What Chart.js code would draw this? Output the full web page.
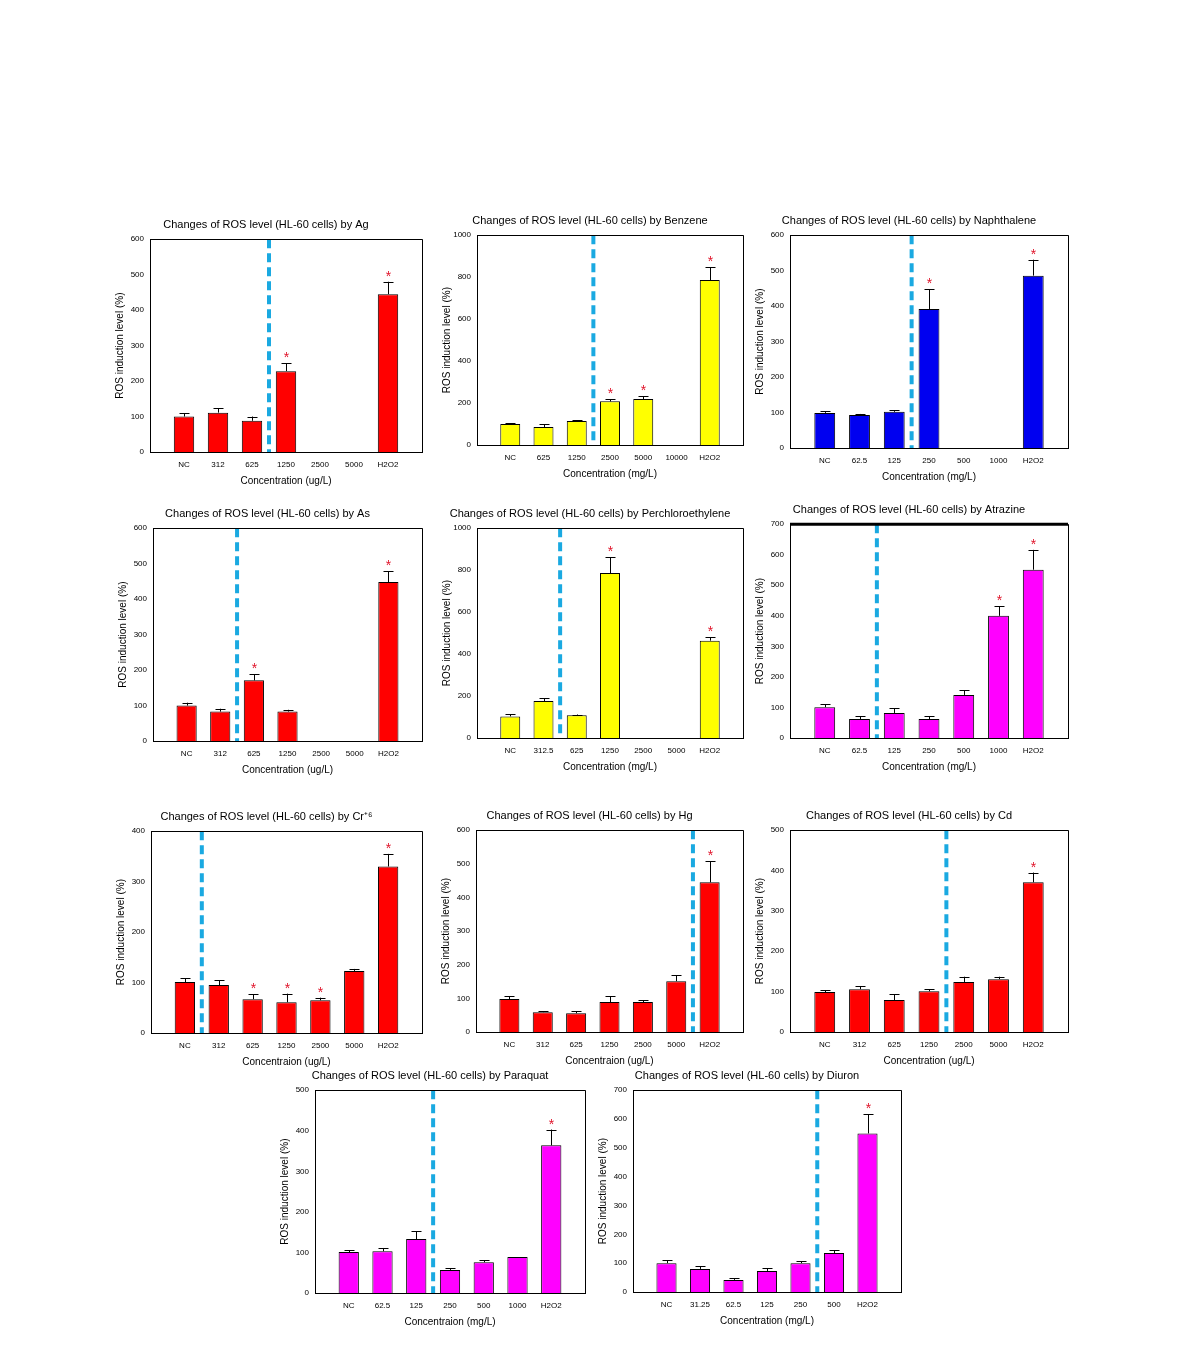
<!DOCTYPE html>
<html>
<head>
<meta charset="utf-8">
<script src="https://cdn.jsdelivr.net/npm/chart.js@4.4.1/dist/chart.umd.min.js"></script>
<style>
  html, body { margin: 0; background: #fff; }
  #page { position: relative; width: 1190px; height: 1372px; }
  #page canvas { position: absolute; }
</style>
</head>
<body>
<div id="page"></div>
<script>
// ── dose labels (x categories) ──
const ugDoses      = ['NC', '312', '625', '1250', '2500', '5000', 'H2O2'];
const benzeneDoses = ['NC', '625', '1250', '2500', '5000', '10000', 'H2O2'];
const mgDoses      = ['NC', '62.5', '125', '250', '500', '1000', 'H2O2'];
const percDoses    = ['NC', '312.5', '625', '1250', '2500', '5000', 'H2O2'];
const diuronDoses  = ['NC', '31.25', '62.5', '125', '250', '500', 'H2O2'];

// ── ROS induction level (%), error bars, significance (*) ──
const agMean = [100, 111, 88, 228, null, null, 445];
const agErr  = [10, 13, 12, 22, 0, 0, 35];
const agSig  = [0, 0, 0, 1, 0, 0, 1];

const benzeneMean = [100, 86, 114, 208, 219, null, 786];
const benzeneErr  = [3, 14, 5, 11, 14, 0, 62];
const benzeneSig  = [0, 0, 0, 1, 1, 0, 1];

const naphMean = [99, 93, 102, 392, null, null, 486];
const naphErr  = [5, 3, 5, 55, 0, 0, 45];
const naphSig  = [0, 0, 0, 1, 0, 0, 1];

const asMean = [100, 83, 171, 83, null, null, 448];
const asErr  = [8, 8, 17, 5, 0, 0, 31];
const asSig  = [0, 0, 1, 0, 0, 0, 1];

const percMean = [103, 176, 108, 786, null, null, 464];
const percErr  = [11, 14, 4, 76, 0, 0, 17];
const percSig  = [0, 0, 0, 1, 0, 0, 1];

const atrazineMean = [101, 62, 82, 62, 141, 400, 551];
const atrazineErr  = [10, 9, 16, 9, 15, 32, 65];
const atrazineSig  = [0, 0, 0, 0, 0, 1, 1];

const crMean = [101, 95, 67, 61, 65, 123, 330];
const crErr  = [8, 10, 10, 17, 5, 4, 25];
const crSig  = [0, 0, 1, 1, 1, 0, 1];

const hgMean = [98, 59, 56, 89, 89, 151, 445];
const hgErr  = [8, 3, 6, 17, 6, 18, 62];
const hgSig  = [0, 0, 0, 0, 0, 0, 1];

const cdMean = [99, 106, 79, 101, 124, 131, 371];
const cdErr  = [5, 8, 15, 5, 13, 6, 24];
const cdSig  = [0, 0, 0, 0, 0, 0, 1];

const paraquatMean = [101, 103, 133, 57, 76, 89, 364];
const paraquatErr  = [5, 8, 19, 4, 5, 0, 39];
const paraquatSig  = [0, 0, 0, 0, 0, 0, 1];

const diuronMean = [100, 80, 42, 73, 100, 135, 550];
const diuronErr  = [11, 10, 6, 10, 7, 10, 66];
const diuronSig  = [0, 0, 0, 0, 0, 0, 1];

const RED = '#ff0000', YELLOW = '#ffff00', BLUE = '#0000f0', MAGENTA = '#ff00ff';

// panel list: which arrays, axis range, where the dashed divider sits, and plot box on the page
const panels = [
  { name: 'Ag', doses: ugDoses, mean: agMean, err: agErr, sig: agSig, color: RED, yMax: 600, step: 100, divider: 2.5, unit: 'Concentration (ug/L)', box: [150, 239, 422, 452] },
  { name: 'Benzene', doses: benzeneDoses, mean: benzeneMean, err: benzeneErr, sig: benzeneSig, color: YELLOW, yMax: 1000, step: 200, divider: 2.5, unit: 'Concentration (mg/L)', box: [477, 235, 743, 445] },
  { name: 'Naphthalene', doses: mgDoses, mean: naphMean, err: naphErr, sig: naphSig, color: BLUE, yMax: 600, step: 100, divider: 2.5, unit: 'Concentration (mg/L)', box: [790, 235, 1068, 448] },
  { name: 'As', doses: ugDoses, mean: asMean, err: asErr, sig: asSig, color: RED, yMax: 600, step: 100, divider: 1.5, unit: 'Concentration (ug/L)', box: [153, 528, 422, 741] },
  { name: 'Perchloroethylene', doses: percDoses, mean: percMean, err: percErr, sig: percSig, color: YELLOW, yMax: 1000, step: 200, divider: 1.5, unit: 'Concentration (mg/L)', box: [477, 528, 743, 738] },
  { name: 'Atrazine', doses: mgDoses, mean: atrazineMean, err: atrazineErr, sig: atrazineSig, color: MAGENTA, yMax: 700, step: 100, divider: 1.5, unit: 'Concentration (mg/L)', box: [790, 524, 1068, 738], heavyTop: true },
  { name: 'Cr\u207A\u2076', doses: ugDoses, mean: crMean, err: crErr, sig: crSig, color: RED, yMax: 400, step: 100, divider: 0.5, unit: 'Concentraion (ug/L)', box: [151, 831, 422, 1033] },
  { name: 'Hg', doses: ugDoses, mean: hgMean, err: hgErr, sig: hgSig, color: RED, yMax: 600, step: 100, divider: 5.5, unit: 'Concentraion (ug/L)', box: [476, 830, 743, 1032] },
  { name: 'Cd', doses: ugDoses, mean: cdMean, err: cdErr, sig: cdSig, color: RED, yMax: 500, step: 100, divider: 3.5, unit: 'Concentration (ug/L)', box: [790, 830, 1068, 1032] },
  { name: 'Paraquat', doses: mgDoses, mean: paraquatMean, err: paraquatErr, sig: paraquatSig, color: MAGENTA, yMax: 500, step: 100, divider: 2.5, unit: 'Concentraion (mg/L)', box: [315, 1090, 585, 1293] },
  { name: 'Diuron', doses: diuronDoses, mean: diuronMean, err: diuronErr, sig: diuronSig, color: MAGENTA, yMax: 700, step: 100, divider: 4.5, unit: 'Concentration (mg/L)', box: [633, 1090, 901, 1292] }
];

Chart.defaults.font.family = "'Liberation Sans', Arial, sans-serif";
Chart.defaults.color = '#000';

const SIDE = 45;         // room left of plot (y title + ticks) and mirrored on the right
const TITLE_H = 25.2;    // 11px * 1.2 + padding 4 + 8
const X_AXIS_H = 40;
const BOTTOM_PAD = 4;

// error bars, asterisks, divider and frame
const extrasPlugin = {
  id: 'extras',
  afterDatasetsDraw(chart, args, opts) {
    const { ctx, chartArea: a, scales: { x, y } } = chart;
    const p = opts.panel;
    ctx.save();

    // error bars (upper only)
    ctx.strokeStyle = '#000';
    ctx.lineWidth = 1;
    p.mean.forEach((v, i) => {
      if (v == null) return;
      const px = Math.round(x.getPixelForValue(i + 1)) + 0.5;
      const yTop = y.getPixelForValue(v);
      const yErr = y.getPixelForValue(v + p.err[i]);
      if (p.err[i] > 0) {
        ctx.beginPath();
        ctx.moveTo(px, yTop);
        ctx.lineTo(px, yErr);
        ctx.moveTo(px - 5, Math.round(yErr) + 0.5);
        ctx.lineTo(px + 5, Math.round(yErr) + 0.5);
        ctx.stroke();
      }
      if (p.sig[i]) {
        ctx.fillStyle = '#e0142a';
        ctx.font = "14px 'Liberation Sans', Arial, sans-serif";
        ctx.textAlign = 'center';
        ctx.textBaseline = 'alphabetic';
        ctx.fillText('*', px, yErr - 1);
      }
    });

    // dashed divider
    const dx = x.getPixelForValue(p.divider + 1);
    ctx.strokeStyle = '#1aa9e1';
    ctx.lineWidth = 4;
    ctx.setLineDash([9, 5]);
    ctx.beginPath();
    ctx.moveTo(dx, a.top);
    ctx.lineTo(dx, a.bottom);
    ctx.stroke();
    ctx.setLineDash([]);

    // top + right frame
    ctx.strokeStyle = '#000';
    ctx.lineWidth = 1;
    ctx.beginPath();
    ctx.moveTo(a.left, Math.round(a.top) + 0.5);
    ctx.lineTo(a.right, Math.round(a.top) + 0.5);
    ctx.moveTo(Math.round(a.right) + 0.5, a.top);
    ctx.lineTo(Math.round(a.right) + 0.5, a.bottom);
    ctx.stroke();
    if (p.heavyTop) {
      ctx.lineWidth = 3;
      ctx.beginPath();
      ctx.moveTo(a.left, a.top);
      ctx.lineTo(a.right, a.top);
      ctx.stroke();
    }
    ctx.restore();
  }
};

const page = document.getElementById('page');

panels.forEach(p => {
  const [l, t, r, b] = p.box;
  const canvas = document.createElement('canvas');
  const w = (r - l) + SIDE * 2;
  const h = TITLE_H + (b - t) + X_AXIS_H + BOTTOM_PAD;
  canvas.width = w;
  canvas.height = h;
  canvas.style.width = w + 'px';
  canvas.style.height = h + 'px';
  canvas.style.left = (l - SIDE) + 'px';
  canvas.style.top = (t - TITLE_H) + 'px';
  page.appendChild(canvas);

  // blank slot at each end leaves a full category gap inside the frame
  const labels = ['', ...p.doses, ''];
  const data = [null, ...p.mean, null];

  new Chart(canvas.getContext('2d'), {
    type: 'bar',
    data: {
      labels: labels,
      datasets: [{
        data: data,
        backgroundColor: p.color,
        borderColor: '#000',
        borderWidth: 1,
        categoryPercentage: 1,
        barPercentage: 0.6
      }]
    },
    options: {
      responsive: false,
      animation: false,
      events: [],
      layout: { padding: { left: 5, right: SIDE, top: 0, bottom: BOTTOM_PAD } },
      plugins: {
        legend: { display: false },
        tooltip: { enabled: false },
        title: {
          display: true,
          text: 'Changes of ROS level (HL-60 cells) by ' + p.name,
          font: { size: 11, weight: 'normal' },
          padding: { top: 4, bottom: 8 }
        },
        extras: { panel: p }
      },
      scales: {
        x: {
          offset: false,
          grid: { display: false, drawTicks: false },
          border: { display: true, color: '#000', width: 1 },
          ticks: { autoSkip: false, maxRotation: 0, font: { size: 8 }, padding: 8 },
          title: { display: true, text: p.unit, font: { size: 10 }, padding: { top: 0, bottom: 5 } },
          afterFit: s => { s.height = X_AXIS_H; }
        },
        y: {
          min: 0,
          max: p.yMax,
          grid: { display: false, drawTicks: false },
          border: { display: true, color: '#000', width: 1 },
          ticks: { stepSize: p.step, font: { size: 8 }, padding: 6, callback: v => String(v) },
          title: { display: true, text: 'ROS induction level (%)', font: { size: 10 }, padding: { top: 4, bottom: 0 } },
          afterFit: s => { s.width = 40; }
        }
      }
    },
    plugins: [extrasPlugin]
  });
});
</script>
</body>
</html>
